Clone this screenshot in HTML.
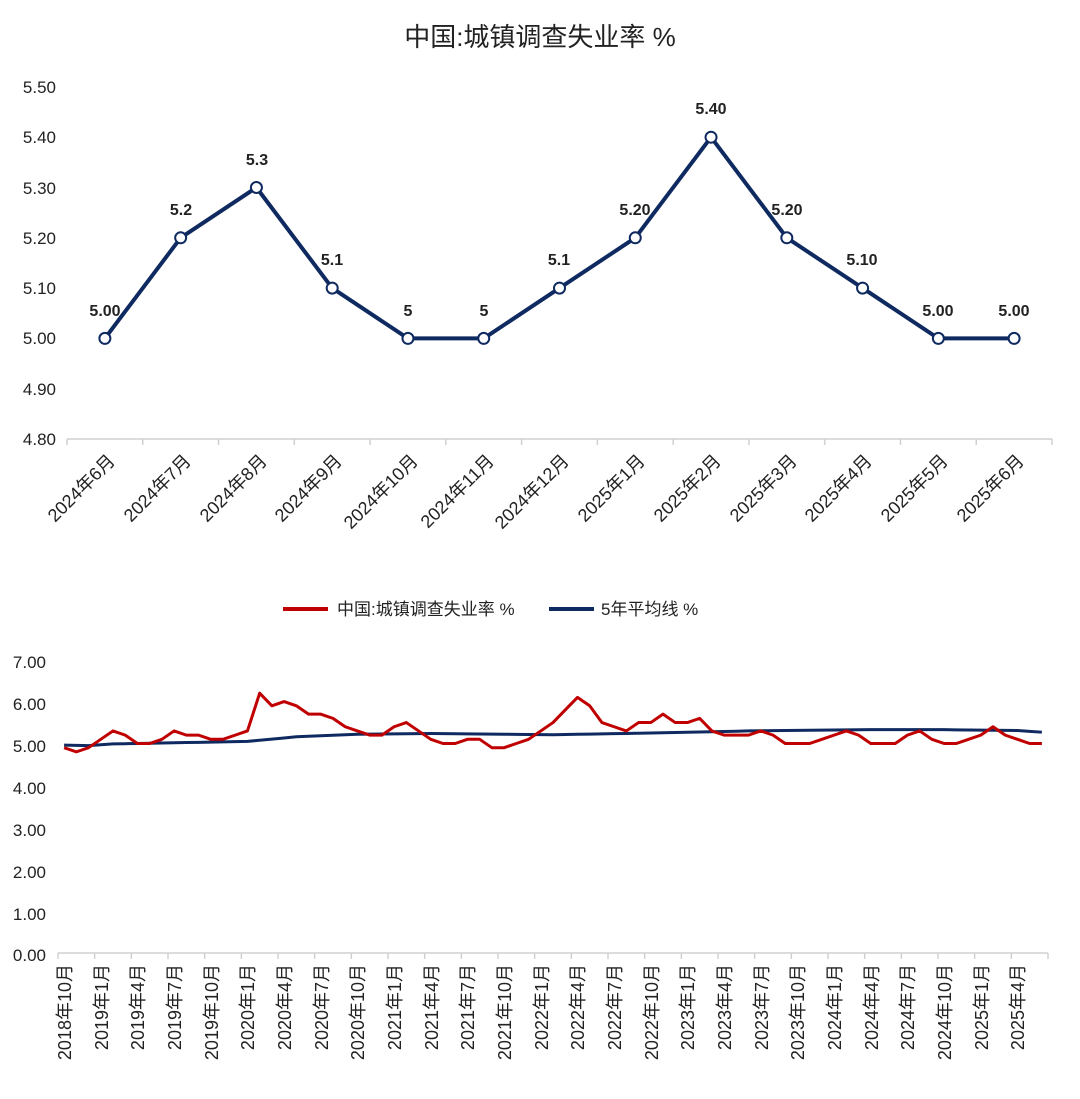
<!DOCTYPE html>
<html><head><meta charset="utf-8"><style>
body{margin:0;background:#fff}
svg{font-family:"Liberation Sans","Noto Sans CJK SC",sans-serif}
</style></head><body>
<svg id="s" width="1080" height="1094" xmlns="http://www.w3.org/2000/svg">
<text x="540" y="46" font-size="26" text-anchor="middle" fill="#222">中国:城镇调查失业率 %</text>
<g font-size="17" fill="#222" text-anchor="end">
<text x="56" y="93">5.50</text><text x="56" y="143">5.40</text><text x="56" y="194">5.30</text><text x="56" y="244">5.20</text><text x="56" y="294">5.10</text><text x="56" y="344">5.00</text><text x="56" y="395">4.90</text><text x="56" y="445">4.80</text>
</g>
<g id="topaxis" stroke="#d0d0d0" stroke-width="1.5"></g>
<g font-size="18" fill="#222" text-anchor="end">
<text transform="translate(116,462) rotate(-45)">2024年6月</text>
<text transform="translate(192,462) rotate(-45)">2024年7月</text>
<text transform="translate(268,462) rotate(-45)">2024年8月</text>
<text transform="translate(343,462) rotate(-45)">2024年9月</text>
<text transform="translate(419,462) rotate(-45)">2024年10月</text>
<text transform="translate(495,462) rotate(-45)">2024年11月</text>
<text transform="translate(570,462) rotate(-45)">2024年12月</text>
<text transform="translate(646,462) rotate(-45)">2025年1月</text>
<text transform="translate(722,462) rotate(-45)">2025年2月</text>
<text transform="translate(798,462) rotate(-45)">2025年3月</text>
<text transform="translate(873,462) rotate(-45)">2025年4月</text>
<text transform="translate(949,462) rotate(-45)">2025年5月</text>
<text transform="translate(1025,462) rotate(-45)">2025年6月</text>
</g>
<polyline id="topline" fill="none" stroke="#0f2a60" stroke-width="4" stroke-linejoin="round"/>
<g id="topmarks"></g>
<g font-size="16" font-weight="bold" fill="#222" text-anchor="middle">
<text x="105" y="316">5.00</text><text x="181" y="215">5.2</text><text x="257" y="165">5.3</text><text x="332" y="265">5.1</text><text x="408" y="316">5</text><text x="484" y="316">5</text><text x="559" y="265">5.1</text><text x="635" y="215">5.20</text><text x="711" y="114">5.40</text><text x="787" y="215">5.20</text><text x="862" y="265">5.10</text><text x="938" y="316">5.00</text><text x="1014" y="316">5.00</text>
</g>
<line x1="283" y1="609" x2="328" y2="609" stroke="#c00000" stroke-width="4"/>
<text x="337" y="615" font-size="17" fill="#222">中国:城镇调查失业率 %</text>
<line x1="549" y1="609" x2="594" y2="609" stroke="#0f2a60" stroke-width="4"/>
<text x="601" y="615" font-size="17" fill="#222">5年平均线 %</text>
<g font-size="17" fill="#222" text-anchor="end">
<text x="46" y="668">7.00</text><text x="46" y="710">6.00</text><text x="46" y="752">5.00</text><text x="46" y="794">4.00</text><text x="46" y="836">3.00</text><text x="46" y="878">2.00</text><text x="46" y="920">1.00</text><text x="46" y="961">0.00</text>
</g>
<g id="botaxis" stroke="#d0d0d0" stroke-width="1.5"></g>
<g font-size="18" fill="#222" text-anchor="end">
<text transform="translate(71,964) rotate(-90)">2018年10月</text>
<text transform="translate(108,964) rotate(-90)">2019年1月</text>
<text transform="translate(144,964) rotate(-90)">2019年4月</text>
<text transform="translate(181,964) rotate(-90)">2019年7月</text>
<text transform="translate(218,964) rotate(-90)">2019年10月</text>
<text transform="translate(254,964) rotate(-90)">2020年1月</text>
<text transform="translate(291,964) rotate(-90)">2020年4月</text>
<text transform="translate(328,964) rotate(-90)">2020年7月</text>
<text transform="translate(364,964) rotate(-90)">2020年10月</text>
<text transform="translate(401,964) rotate(-90)">2021年1月</text>
<text transform="translate(438,964) rotate(-90)">2021年4月</text>
<text transform="translate(474,964) rotate(-90)">2021年7月</text>
<text transform="translate(511,964) rotate(-90)">2021年10月</text>
<text transform="translate(548,964) rotate(-90)">2022年1月</text>
<text transform="translate(584,964) rotate(-90)">2022年4月</text>
<text transform="translate(621,964) rotate(-90)">2022年7月</text>
<text transform="translate(658,964) rotate(-90)">2022年10月</text>
<text transform="translate(694,964) rotate(-90)">2023年1月</text>
<text transform="translate(731,964) rotate(-90)">2023年4月</text>
<text transform="translate(768,964) rotate(-90)">2023年7月</text>
<text transform="translate(804,964) rotate(-90)">2023年10月</text>
<text transform="translate(841,964) rotate(-90)">2024年1月</text>
<text transform="translate(878,964) rotate(-90)">2024年4月</text>
<text transform="translate(914,964) rotate(-90)">2024年7月</text>
<text transform="translate(951,964) rotate(-90)">2024年10月</text>
<text transform="translate(988,964) rotate(-90)">2025年1月</text>
<text transform="translate(1024,964) rotate(-90)">2025年4月</text>
</g>
<polyline id="blue" fill="none" stroke="#0f2a60" stroke-width="3" stroke-linejoin="round"/>
<polyline id="red" fill="none" stroke="#c00000" stroke-width="3" stroke-linejoin="round"/>
</svg>
<script>
var NS="http://www.w3.org/2000/svg";
function el(p,t,a){var e=document.createElementNS(NS,t);for(var k in a)e.setAttribute(k,a[k]);p.appendChild(e);return e;}
var tv=[5.0,5.2,5.3,5.1,5.0,5.0,5.1,5.2,5.4,5.2,5.1,5.0,5.0];
var ta=document.getElementById('topaxis');
el(ta,'line',{x1:67,y1:439,x2:1052,y2:439});
var w=(1052-67)/13;
for(var i=0;i<=13;i++)el(ta,'line',{x1:67+w*i,y1:439,x2:67+w*i,y2:445});
var pts=[],tm=document.getElementById('topmarks');
for(i=0;i<13;i++){var x=67+w*(i+0.5),y=439-(tv[i]-4.8)*503;pts.push(x+','+y);
el(tm,'circle',{cx:x,cy:y,r:5.5,fill:'#fff',stroke:'#0f2a60','stroke-width':2});}
document.getElementById('topline').setAttribute('points',pts.join(' '));
var r=[4.9,4.8,4.9,5.1,5.3,5.2,5.0,5.0,5.1,5.3,5.2,5.2,5.1,5.1,5.2,5.3,6.2,5.9,6.0,5.9,5.7,5.7,5.6,5.4,5.3,5.2,5.2,5.4,5.5,5.3,5.1,5.0,5.0,5.1,5.1,4.9,4.9,5.0,5.1,5.3,5.5,5.8,6.1,5.9,5.5,5.4,5.3,5.5,5.5,5.7,5.5,5.5,5.6,5.3,5.2,5.2,5.2,5.3,5.2,5.0,5.0,5.0,5.1,5.2,5.3,5.2,5.0,5.0,5.0,5.2,5.3,5.1,5.0,5.0,5.1,5.2,5.4,5.2,5.1,5.0,5.0];
var kp=[[0,4.96],[2,4.95],[4,4.99],[15,5.05],[19,5.16],[24,5.22],[30,5.24],[40,5.21],[48,5.25],[56,5.30],[66,5.33],[72,5.33],[78,5.31],[80,5.27]];
function avg(i){for(var k=0;k<kp.length-1;k++){if(i<=kp[k+1][0]){var t=(i-kp[k][0])/(kp[k+1][0]-kp[k][0]);return kp[k][1]+t*(kp[k+1][1]-kp[k][1]);}}return kp[kp.length-1][1];}
var ba=document.getElementById('botaxis'),bw=(1048-58)/81;
el(ba,'line',{x1:58,y1:953,x2:1048,y2:953});
for(i=0;i<=81;i+=3)el(ba,'line',{x1:58+bw*i,y1:953,x2:58+bw*i,y2:959});
var rp=[],bp=[];
for(i=0;i<81;i++){var x=58+bw*(i+0.5);rp.push(x+','+(953-r[i]*41.9));bp.push(x+','+(953-avg(i)*41.9));}
document.getElementById('red').setAttribute('points',rp.join(' '));
document.getElementById('blue').setAttribute('points',bp.join(' '));
</script>
</body></html>
